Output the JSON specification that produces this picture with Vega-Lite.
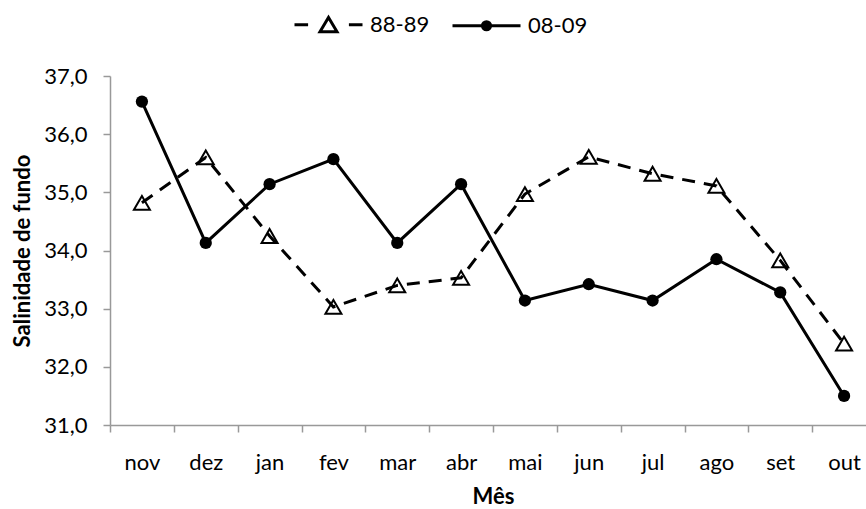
{
  "$schema": "https://vega.github.io/schema/vega-lite/v6.json",
  "width": 766,
  "height": 349,
  "autosize": {"type": "none"},
  "padding": {"left": 110, "top": 76, "right": 0, "bottom": 84},
  "background": "white",
  "config": {
    "view": {"stroke": null},
    "font": "Lato",
    "axis": {
      "domainColor": "#999999",
      "domainWidth": 1.5,
      "tickColor": "#999999",
      "tickWidth": 1.5,
      "tickSize": 7,
      "grid": false,
      "labelColor": "black",
      "labelFont": "Lato",
      "labelFontSize": 22,
      "titleFont": "Lato",
      "titleFontSize": 22,
      "titleFontWeight": "bold",
      "titleColor": "black"
    },
    "legend": {
      "labelFont": "Lato",
      "labelFontSize": 22,
      "labelColor": "black"
    }
  },
  "data": {
    "values": [
      {"mes": "nov", "serie": "88-89", "valor": 34.82},
      {"mes": "dez", "serie": "88-89", "valor": 35.6},
      {"mes": "jan", "serie": "88-89", "valor": 34.25},
      {"mes": "fev", "serie": "88-89", "valor": 33.03},
      {"mes": "mar", "serie": "88-89", "valor": 33.4},
      {"mes": "abr", "serie": "88-89", "valor": 33.53},
      {"mes": "mai", "serie": "88-89", "valor": 34.97},
      {"mes": "jun", "serie": "88-89", "valor": 35.61},
      {"mes": "jul", "serie": "88-89", "valor": 35.32},
      {"mes": "ago", "serie": "88-89", "valor": 35.11},
      {"mes": "set", "serie": "88-89", "valor": 33.83},
      {"mes": "out", "serie": "88-89", "valor": 32.4},
      {"mes": "nov", "serie": "08-09", "valor": 36.56},
      {"mes": "dez", "serie": "08-09", "valor": 34.13},
      {"mes": "jan", "serie": "08-09", "valor": 35.14},
      {"mes": "fev", "serie": "08-09", "valor": 35.57},
      {"mes": "mar", "serie": "08-09", "valor": 34.13},
      {"mes": "abr", "serie": "08-09", "valor": 35.14},
      {"mes": "mai", "serie": "08-09", "valor": 33.14},
      {"mes": "jun", "serie": "08-09", "valor": 33.42},
      {"mes": "jul", "serie": "08-09", "valor": 33.14},
      {"mes": "ago", "serie": "08-09", "valor": 33.85},
      {"mes": "set", "serie": "08-09", "valor": 33.28},
      {"mes": "out", "serie": "08-09", "valor": 31.5}
    ]
  },
  "encoding": {
    "x": {
      "field": "mes",
      "type": "nominal",
      "sort": ["nov", "dez", "jan", "fev", "mar", "abr", "mai", "jun", "jul", "ago", "set", "out"],
      "scale": {"type": "band", "paddingInner": 0, "paddingOuter": 0},
      "axis": {
        "title": "Mês",
        "labelAngle": 0,
        "tickBand": "extent",
        "labelPadding": 20,
        "titlePadding": 13
      }
    },
    "y": {
      "field": "valor",
      "type": "quantitative",
      "scale": {"domain": [31, 37], "nice": false, "zero": false},
      "axis": {
        "title": "Salinidade de fundo",
        "values": [31, 32, 33, 34, 35, 36, 37],
        "labelExpr": "replace(format(datum.value, '.1f'), '.', ',')",
        "labelPadding": 16,
        "titlePadding": 9
      }
    }
  },
  "layer": [
    {
      "transform": [{"filter": "datum.serie == '88-89'"}],
      "mark": {"type": "line", "color": "black", "strokeWidth": 3, "strokeDash": [13, 9]}
    },
    {
      "transform": [{"filter": "datum.serie == '08-09'"}],
      "mark": {"type": "line", "color": "black", "strokeWidth": 3}
    },
    {
      "transform": [{"filter": "datum.serie == '88-89'"}],
      "mark": {"type": "point", "shape": "triangle-up", "filled": false, "stroke": "black", "strokeWidth": 2, "size": 256, "opacity": 1}
    },
    {
      "transform": [{"filter": "datum.serie == '08-09'"}],
      "mark": {"type": "point", "shape": "circle", "filled": true, "color": "black", "size": 150, "opacity": 1}
    },
    {
      "transform": [{"filter": "datum.valor < 0"}],
      "mark": {"type": "point", "filled": false, "color": "black", "strokeWidth": 3, "opacity": 1},
      "encoding": {
        "shape": {
          "field": "serie",
          "type": "nominal",
          "scale": {
            "domain": ["88-89", "08-09"],
            "range": [
              "M-1,0H-0.6M0.6,0H1M-0.25,0.2L0,-0.22L0.25,0.2Z",
              "M-1,0H1M-0.12,0A0.12,0.12 0 1,0 0.12,0A0.12,0.12 0 1,0 -0.12,0ZM-0.05,0A0.05,0.05 0 1,0 0.05,0A0.05,0.05 0 1,0 -0.05,0Z"
            ]
          },
          "legend": {
            "title": null,
            "orient": "none",
            "direction": "horizontal",
            "legendX": 183,
            "legendY": -87,
            "symbolSize": 4624,
            "symbolStrokeWidth": 3,
            "labelOffset": 6,
            "columnPadding": 16,
            "padding": 0
          }
        },
        "stroke": {
          "field": "serie",
          "type": "nominal",
          "scale": {"domain": ["88-89", "08-09"], "range": ["black", "black"]},
          "legend": {
            "title": null,
            "orient": "none",
            "direction": "horizontal",
            "legendX": 183,
            "legendY": -87,
            "symbolSize": 4624,
            "symbolStrokeWidth": 3,
            "labelOffset": 6,
            "columnPadding": 16,
            "padding": 0
          }
        }
      }
    }
  ]
}
